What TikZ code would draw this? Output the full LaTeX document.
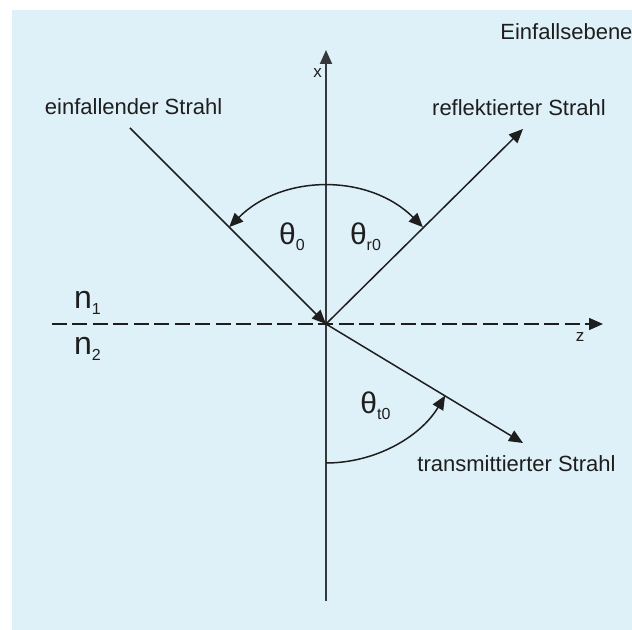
\documentclass[tikz,border=0pt]{standalone}
\usepackage{fontspec}
\setmainfont{Liberation Sans}
\usepackage{xcolor}
\usetikzlibrary{arrows.meta}
\definecolor{pback}{HTML}{DFF1F8}
\definecolor{pdark}{HTML}{1E1E1E}
\definecolor{paxis}{HTML}{35383D}
\newcommand\lowidx[1]{\raisebox{-3pt}{\fontsize{8}{9}\selectfont #1}}

\begin{document}
\begin{tikzpicture}[x=0.5pt,y=0.5pt,
    tip/.style={-{Triangle[length=7pt,width=6pt]}},
    ray/.style={line width=0.75pt,draw=pdark,tip},
    lbl/.style={font=\fontsize{11}{13}\selectfont,text=pdark,inner sep=0pt},
    ang/.style={font=\fontsize{15}{17}\selectfont,text=pdark,inner sep=0pt},
    axl/.style={font=\fontsize{8.5}{10}\selectfont,text=pdark,inner sep=0pt}]
  \useasboundingbox (-326,-306) rectangle (306,324);
  \fill[pback] (-314,-306) rectangle (306,314);
  % axes and rays
  \coordinate (O) at (0,0);
  \coordinate (xbot) at (0,-277);
  \coordinate (xtop) at (0,274);
  \coordinate (zleft) at (-274,0);
  \coordinate (zright) at (277,0);
  \coordinate (einS) at (-196,196);
  \coordinate (refS) at (197,195);
  \coordinate (traS) at (197,-119);
  \draw[ray,draw=paxis,line width=1pt] (xbot) -- (xtop);
  \draw[ray,dash pattern=on 7.5pt off 2.75pt] (zleft) -- (zright);
  \draw[ray] (einS) -- (O);
  \draw[ray] (O) -- (refS);
  \draw[ray] (O) -- (traS);
  % angle arcs
  \draw[line width=0.75pt,pdark,{Triangle[length=7pt,width=6pt]}-{Triangle[length=7pt,width=6pt]}]
    (135:137) arc[start angle=135,end angle=45,radius=137];
  \draw[line width=0.75pt,pdark,tip] (-90:139) arc[start angle=-90,end angle=-31,radius=139];
  % labels
  \node[ang] (th0) at (-34,87) {θ\lowidx{0}};
  \node[ang] (thr) at (39.5,87) {θ\lowidx{r0}};
  \node[ang] (tht) at (49.5,-82) {θ\lowidx{t0}};
  \node[font=\fontsize{16}{18}\selectfont,text=pdark,inner sep=0pt] (n1) at (-238.5,21.5) {n\lowidx{1}};
  \node[font=\fontsize{16}{18}\selectfont,text=pdark,inner sep=0pt] (n2) at (-238.5,-25) {n\lowidx{2}};
  \node[axl] (xlbl) at (-8.4,251) {x};
  \node[axl] (zlbl) at (254,-13) {z};
  \node[lbl] (einL) at (-192.4,217) {einfallender Strahl};
  \node[lbl] (refL) at (193,216) {reflektierter Strahl};
  \node[lbl] (traL) at (190.5,-139.5) {transmittierter Strahl};
  \node[lbl,anchor=west] (ebene) at (174,292.6) {Einfallsebene};
\end{tikzpicture}
\end{document}
